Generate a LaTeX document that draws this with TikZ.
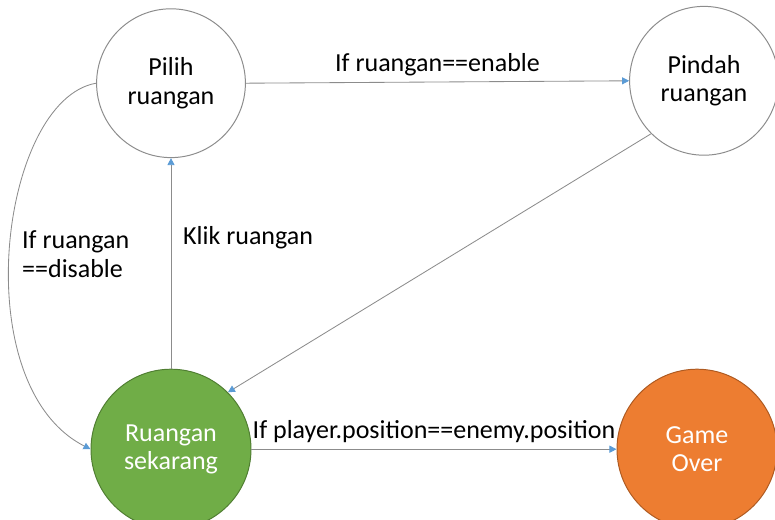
\documentclass[tikz,border=0pt]{standalone}
\usepackage{fontspec}
\setmainfont{Carlito}
\usetikzlibrary{arrows.meta}
\definecolor{linegray}{HTML}{8C8C8C}
\definecolor{tipblue}{HTML}{5B9BD5}
\definecolor{roomgreen}{HTML}{70AD47}
\definecolor{roomgreendark}{HTML}{507E32}
\definecolor{overorange}{HTML}{ED7D31}
\definecolor{overorangedark}{HTML}{AE5A21}
\tikzstyle{state}=[circle,
	minimum size=3.72cm,
	inner sep=0pt,
	align=center,
	line width=0.7pt,
	draw=linegray,
	fill=white]
\tikzstyle{current}=[circle,
	minimum size=4cm,
	inner sep=0pt,
	align=center,
	line width=0.7pt,
	draw=roomgreendark,
	fill=roomgreen,
	text=white]
\tikzstyle{over}=[circle,
	minimum size=4cm,
	inner sep=0pt,
	align=center,
	line width=0.7pt,
	draw=overorangedark,
	fill=overorange,
	text=white]
\tikzstyle{trans}=[draw=linegray,
	line width=0.6pt,
	-{Triangle[length=5pt,width=5pt,color=tipblue]}]

\begin{document}
\begin{tikzpicture}[font=\fontsize{18.5}{20}\selectfont]
					\useasboundingbox (0,0) rectangle (19.375,-13);
					\node (pilih) [state] at (4.275,-2.08) {Pilih\\ruangan};
					\node (pindah) [state, right of=pilih, node distance=13.325cm, yshift=0.06cm]{Pindah\\ruangan};
					\draw[trans] (pilih.east) -- node[above, yshift=1pt]{If ruangan==enable} (pindah.west);

					\node (ruang) [current, below of=pilih, node distance=9.15cm]{Ruangan\\sekarang};
					\draw[trans] (ruang.north) -- node[pos=0.62, right, xshift=5pt]{Klik ruangan} (pilih.south);
					\draw[trans] (pindah.225) -- (ruang.45);
					\draw[trans] (pilih.west) .. controls +(-2.4,-0.42) and +(-3.15,1.6) .. node[right, align=left, xshift=5pt, yshift=-4pt]{If ruangan\\==disable} (ruang.west);

					\node (gameover) [over, right of=ruang, node distance=13.15cm]{Game\\Over};
					\draw[trans] (ruang.east) -- node[above, yshift=1pt]{If player.position==enemy.position} (gameover.west);
				\end{tikzpicture}
\end{document}
